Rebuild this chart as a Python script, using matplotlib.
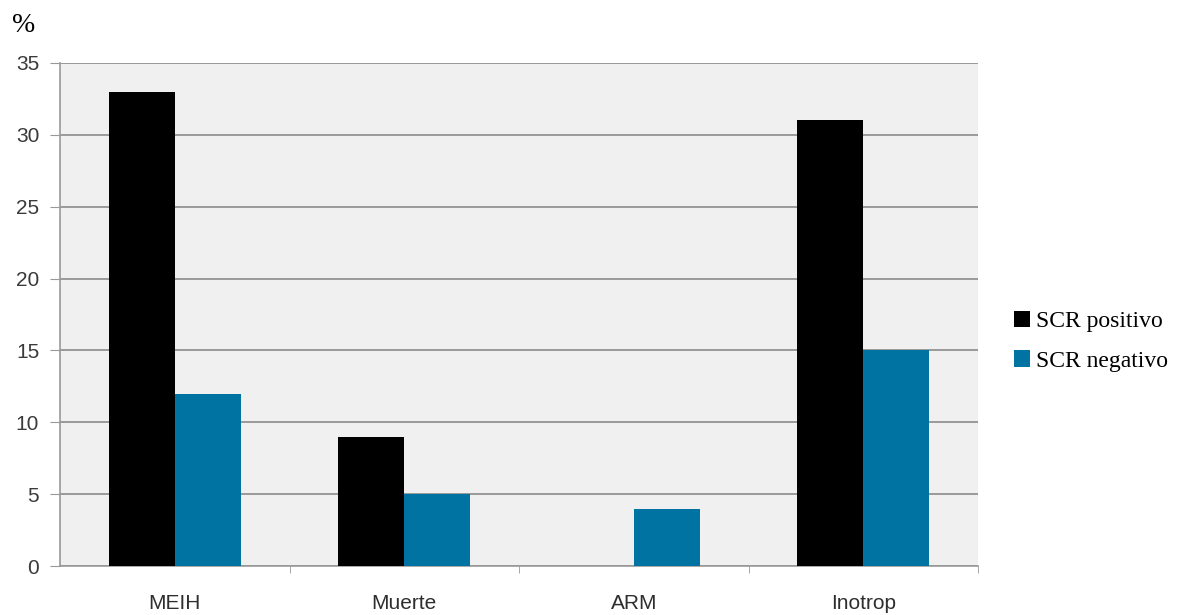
import numpy as np
import matplotlib.pyplot as plt

categories = ["MEIH", "Muerte", "ARM", "Inotrop"]
scr_pos = [33, 9, 0, 31]
scr_neg = [12, 5, 4, 15]
series_names = ["SCR positivo", "SCR negativo"]

fig = plt.figure(figsize=(11.81, 6.15), dpi=100)
ax = fig.add_axes([60 / 1181, 1 - 566 / 615, 918 / 1181, 503 / 615])
ax.set_facecolor("#f0f0f0")

x = np.arange(len(categories))
w = 0.288
ax.bar(x - w / 2, scr_pos, w, color="black", label=series_names[0], zorder=3)
ax.bar(x + w / 2, scr_neg, w, color="#0073a3", label=series_names[1], zorder=3)

ax.set_xlim(-0.5, len(categories) - 0.5)
ax.set_ylim(0, 35)
ax.set_yticks(range(0, 36, 5))
ax.yaxis.grid(True, color="#8a8a8a", linewidth=1.2, zorder=0)

ax.set_xticks(x)
ax.set_xticklabels(categories)
ax.set_xticks(np.arange(0.5, len(categories), 1), minor=True)
ax.tick_params(axis="x", which="major", length=0, pad=20, labelsize=15, labelcolor="#2e2e2e")
ax.tick_params(axis="x", which="minor", length=5, color="#999999", direction="out")
ax.tick_params(axis="y", length=7, color="#999999", labelsize=15, labelcolor="#3a3a3a", pad=8)
for lab in ax.get_xticklabels() + ax.get_yticklabels():
    lab.set_family("Liberation Sans")

for s in ["top", "right"]:
    ax.spines[s].set_visible(False)
for s in ["left", "bottom"]:
    ax.spines[s].set_color("#999999")
    ax.spines[s].set_linewidth(1.2)

fig.text(24 / 1181, 1 - 26 / 615, "%", fontsize=20, family="Liberation Serif",
         ha="center", va="center")

ax.legend(loc="center left", bbox_to_anchor=(1.016, 0.447), frameon=False,
          prop={"family": "Liberation Serif", "size": 17},
          handlelength=0.7, handleheight=0.7, handletextpad=0.25, labelspacing=0.75)

fig.savefig("out.png", dpi=100)
